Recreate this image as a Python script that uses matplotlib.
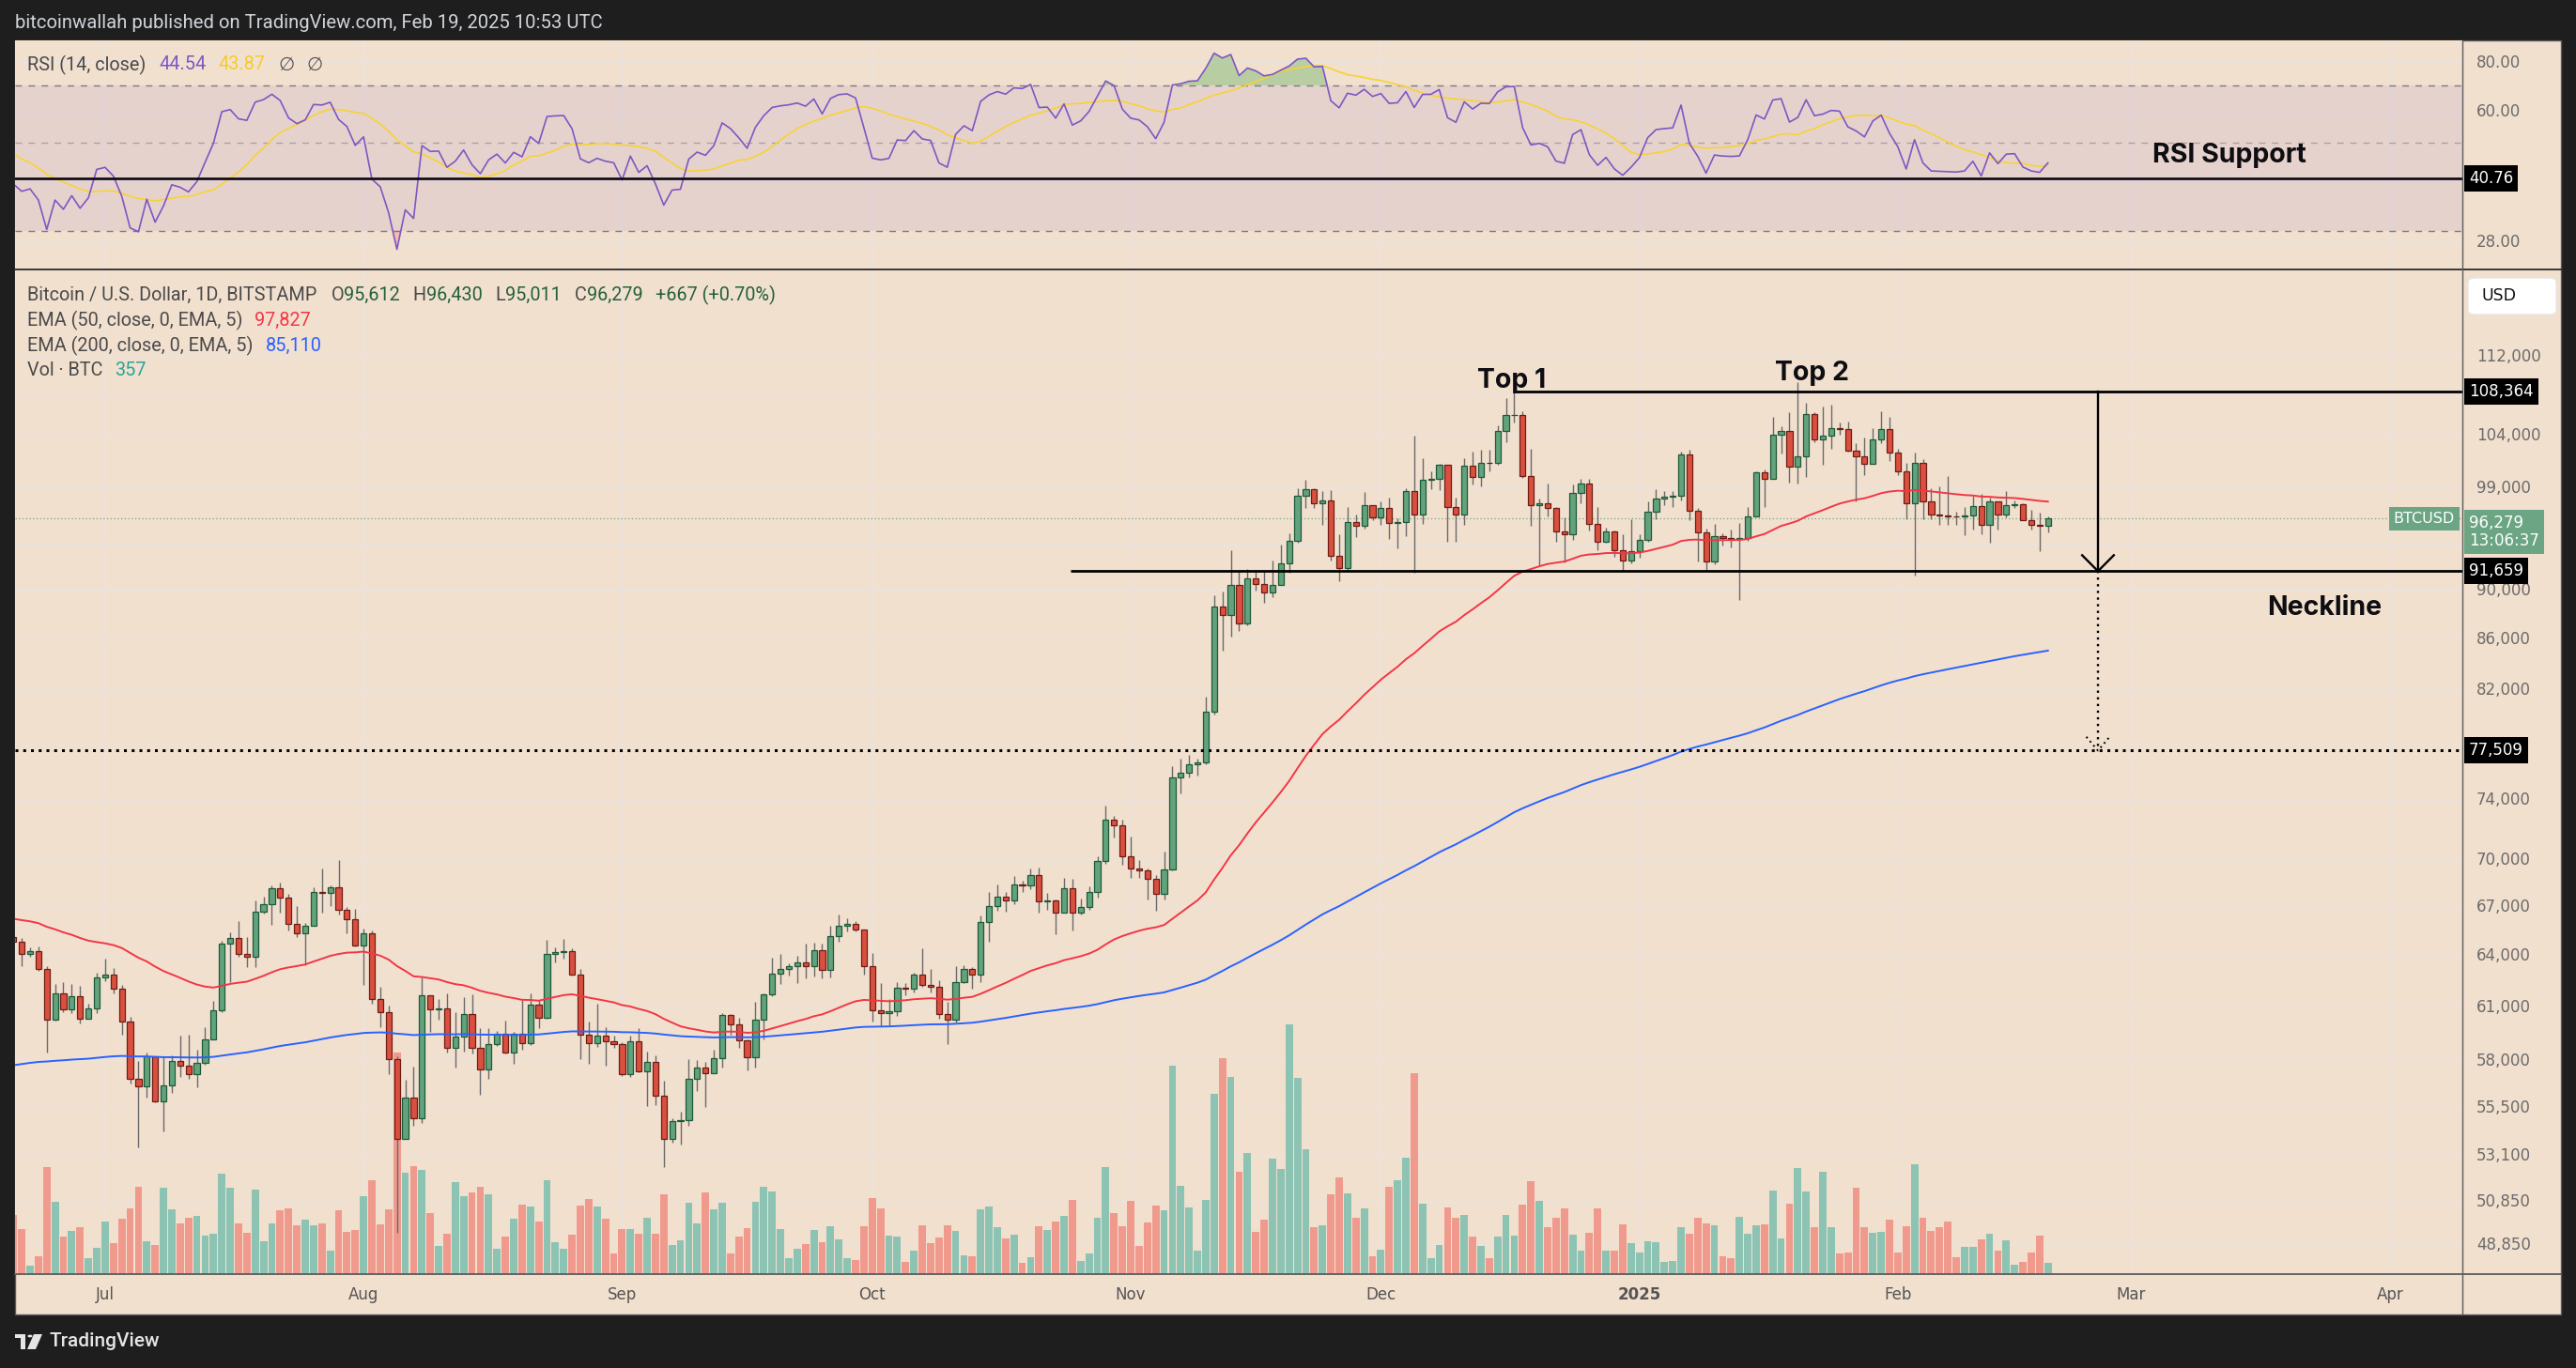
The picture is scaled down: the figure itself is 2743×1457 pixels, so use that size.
import numpy as np
import pandas as pd
import matplotlib
matplotlib.use("Agg")
import matplotlib.pyplot as plt
from matplotlib import transforms
from matplotlib.lines import Line2D
from matplotlib.patches import Rectangle, FancyBboxPatch, Polygon, Circle
from matplotlib.ticker import NullLocator

# ---- data: BTC/USD daily, Bitstamp, 2024-06-20 .. 2025-02-19 ----
dates = pd.date_range("2024-06-20", "2025-02-19", freq="D")
first_open = 65150

closes = [
    64850, 64100, 64250, 63200, 60300, 61800, 60850, 61600, 60350, 60900, 62700,
    62850, 62050, 60200, 57050, 56650, 58250, 55850, 56700, 58000, 57750, 57300, 57900, 59200, 60800, 64700, 65050,
    64100, 63950, 66700, 67150, 68150, 67550, 65900, 65350, 65800, 67900, 67850, 68250, 66800, 66200, 64600,
    65350, 61450, 60700, 58100, 53950, 56050, 55000, 61700, 60850, 60900, 58700, 59350, 60600, 58700, 57550, 58900,
    59500, 58450, 59500, 59000, 61150, 60400, 64100, 64200, 64250, 62850, 59450, 59000, 59400, 59100, 58950,
    57300, 59100, 57450, 57950, 56150, 53950, 54850, 54900, 57050, 57650, 57350, 58150, 60550, 60000, 59150,
    58200, 60300, 61750, 62950, 63200, 63350, 63600, 63350, 64300, 63150, 65200, 65800, 65900, 65600, 63350,
    60800, 60650, 60750, 62100, 62050, 62850, 62250, 62150, 60600, 60300, 62450, 63200, 62850, 66050, 67050,
    67600, 67400, 68400, 68350, 69000, 67350, 67400, 66650, 68150, 66600, 67000, 67950, 69900, 72700, 72300, 70250,
    69450, 69300, 68750, 67800, 69350, 75600, 75900, 76550, 76650, 80400, 88650, 87950, 90450, 87300, 91050,
    90600, 89850, 90450, 92300, 94300, 98350, 98950, 97700, 97900, 93000, 91950, 95950, 95650, 97450, 96400,
    97200, 95850, 96000, 98750, 96600, 99850, 99900, 101200, 97300, 96650, 101150, 100050, 101450, 101400, 104450,
    106050, 106100, 100200, 97450, 97700, 97200, 95150, 94850, 98650, 99450, 95800, 94200, 95150, 93500, 92600, 93400,
    94400, 96900, 98100, 98250, 98350, 102250, 96950, 95050, 92500, 94700, 94550, 94500, 94550, 96500, 100500,
    99950, 104100, 104450, 101100, 102000, 106150, 103650, 104000, 104800, 104700, 102600, 102050, 101300, 103700, 104700, 102400,
    100650, 97700, 101400, 97850, 96600, 96550, 96500, 96450, 96550, 97400, 95750, 97850, 96600, 97500, 97550,
    96150, 95750, 95612, 96279,
]

highs = [
    66450, 65050, 64500, 64550, 63400, 62350, 62450, 62350, 62200, 61200, 63000,
    63800, 63250, 62250, 60450, 58000, 58450, 58250, 58200, 58300, 59400, 59450, 58600, 59850, 61350, 64900, 65400,
    66100, 65100, 67400, 67600, 68350, 68500, 67800, 67050, 66000, 68200, 69400, 68350, 70000, 66950, 66850,
    65650, 65550, 62150, 61100, 58250, 57000, 57700, 62700, 61700, 61450, 61800, 60700, 61550, 61750, 59800, 59800,
    59650, 60250, 59600, 61400, 61800, 61400, 64950, 64500, 65000, 64450, 63200, 60200, 61200, 59850, 59400,
    59050, 59400, 59800, 58500, 58300, 56950, 55000, 55300, 58100, 58050, 57950, 58600, 60650, 60600, 60400,
    59200, 61300, 61800, 63850, 64100, 63550, 64000, 64750, 64800, 64750, 65800, 66500, 66250, 66100, 65600,
    64150, 62400, 61450, 62450, 62400, 63000, 64450, 63200, 62550, 61300, 63400, 63450, 63300, 66450, 67900,
    68400, 67900, 68950, 68650, 69450, 69500, 67850, 67450, 68850, 68750, 67500, 68300, 70250, 73600, 72950, 72650,
    71550, 70000, 69400, 69000, 70550, 76400, 76950, 77200, 76900, 81500, 89600, 89900, 93450, 91750, 91850,
    91800, 91700, 92600, 94000, 94950, 99000, 99800, 99000, 98750, 98900, 94850, 97350, 96650, 98700, 97450,
    97850, 98150, 96300, 99000, 104000, 101900, 100600, 101350, 101200, 98200, 101900, 102500, 102650, 102650, 105000,
    107750, 108364, 106450, 102800, 98100, 99500, 97350, 96400, 99400, 99950, 99900, 97350, 95500, 95200, 94900, 96200,
    94900, 97800, 98950, 98750, 98800, 102450, 102700, 97250, 95350, 95800, 94950, 95300, 95900, 97350, 100650,
    100800, 105900, 104950, 106300, 109350, 107250, 106300, 106850, 107100, 105300, 105450, 103300, 103800, 104800, 106450, 105900,
    102750, 101450, 102400, 101750, 99000, 99200, 100150, 96900, 97300, 98350, 98550, 98150, 97300, 98800, 97950,
    97700, 97050, 96800, 96430,
]

lows = [
    64550, 63400, 63950, 63100, 58450, 60250, 60700, 60650, 60050, 60350, 60650,
    62500, 61800, 59450, 56800, 53500, 56050, 55800, 54300, 56300, 57150, 57050, 56600, 57800, 59300, 60700, 62450,
    63950, 63300, 63300, 66550, 65850, 66650, 65500, 65150, 63450, 65800, 66650, 67050, 66500, 65350, 64550,
    62300, 61200, 59850, 57300, 49400, 54000, 54600, 54750, 59600, 60300, 58450, 57650, 58500, 58400, 56200, 57050,
    58800, 58400, 57850, 58600, 58850, 59800, 60350, 63600, 63800, 62800, 58100, 57850, 58750, 57750, 58700,
    57200, 57150, 57400, 55600, 55650, 52550, 53750, 53650, 54600, 56400, 55550, 57350, 57650, 59450, 58700,
    57500, 57650, 59200, 61600, 62350, 62800, 62400, 62650, 62750, 62650, 62700, 64850, 65450, 65450, 62850,
    60200, 59900, 59950, 60500, 61700, 61850, 62150, 61850, 60350, 58900, 60100, 62400, 62050, 62450, 64850,
    66750, 66700, 67150, 67950, 68100, 66600, 66800, 65300, 66600, 65550, 66500, 66800, 67550, 69750, 71450, 69700,
    68800, 68850, 67450, 66750, 67450, 69300, 74450, 75600, 75750, 76550, 80200, 85100, 86250, 86700, 87100,
    90050, 89000, 89450, 90850, 91550, 94100, 97200, 97200, 95750, 92600, 90800, 91750, 94650, 95400, 96100,
    95750, 94450, 93600, 94700, 91500, 95800, 98950, 98850, 94200, 94250, 95750, 99350, 99250, 100650, 101250,
    103350, 105350, 100000, 95650, 92200, 96450, 94200, 92450, 94350, 97650, 95200, 93500, 94150, 92900, 91700, 92300,
    92850, 94250, 96250, 97500, 97300, 97900, 96150, 92500, 91650, 92250, 93850, 93750, 89250, 94300, 96500,
    97300, 99950, 102300, 99600, 99500, 100100, 103350, 101250, 102800, 104150, 102500, 97800, 100300, 101350, 103300, 101600,
    100300, 96200, 91250, 96200, 96250, 95700, 95700, 95700, 94750, 95300, 94900, 94100, 95250, 96350, 97250,
    96100, 95250, 93400, 95011,
]

volumes = [
    1880, 1440, 270, 570, 3420, 2310, 1200, 1380, 1500, 510, 840,
    1680, 990, 1770, 2100, 2790, 1050, 930, 2760, 2070, 1620, 1800, 1860, 1230, 1290, 3210, 2760,
    1620, 1320, 2700, 1050, 1620, 2040, 2100, 1560, 1740, 1560, 1620, 750, 2040, 1350, 1410,
    2490, 3000, 1590, 2070, 7080, 3240, 3450, 3330, 1950, 900, 1290, 2940, 2490, 2610, 2790, 2550,
    810, 1200, 1770, 2220, 2160, 1680, 3000, 1020, 810, 1260, 2190, 2400, 2160, 1770, 660,
    1440, 1440, 1290, 1800, 1290, 2550, 930, 1080, 2280, 1620, 2610, 2070, 2280, 660, 1200,
    1470, 2310, 2790, 2640, 1440, 510, 810, 960, 1410, 1020, 1530, 1110, 510, 450, 1530,
    2430, 2100, 1230, 1200, 390, 750, 1560, 990, 1170, 1560, 1380, 600, 570, 2070, 2160,
    1500, 1140, 1260, 360, 540, 1530, 1410, 1680, 1860, 2370, 420, 660, 1800, 3420, 1950, 1530,
    2340, 900, 1650, 2190, 2040, 6660, 2820, 2130, 750, 2370, 5760, 6900, 6300, 3270, 3870,
    1350, 1740, 3690, 3360, 7980, 6270, 3990, 1500, 1560, 2550, 3090, 2580, 1800, 2100, 570,
    780, 2790, 3000, 3720, 6420, 2250, 510, 930, 2130, 1800, 1890, 1200, 900, 510, 1200,
    1890, 1230, 2220, 2970, 2340, 1500, 1800, 2100, 1260, 750, 1320, 2100, 750, 750, 1590, 990,
    690, 1050, 1020, 390, 420, 1500, 1290, 1800, 1620, 1560, 570, 510, 1830, 1290, 1560,
    1590, 2670, 1140, 2250, 3390, 2640, 1500, 3270, 1500, 660, 690, 2760, 1500, 1320, 1350, 1740,
    690, 1530, 3510, 1800, 1380, 1500, 1680, 540, 870, 870, 1110, 1290, 750, 1080, 300,
    390, 690, 1230, 357,
]

# indicator state just before the first visible bar
ema50_seed = 66300
ema200_seed = 57700
rsi_gain_seed = 560
rsi_loss_seed = 840
rsi_before = [58, 53, 54, 52, 50, 46, 48, 45, 44, 43, 41, 42, 43]

# drawn levels
top_level = 108364
neck_level = 91659
target_level = 77509
rsi_support = 40.76
last_price = 96279

# grid levels; the ones hidden behind price tags get no label
price_grid = [112000, 108000, 104000, 99000, 94000, 90000, 86000, 82000, 78000, 74000,
              70000, 67000, 64000, 61000, 58000, 55500, 53100, 50850, 48850]
price_hidden = [108000, 94000, 78000]
rsi_grid = [80, 60, 40, 28]
rsi_hidden = [40]
month_names = ["Jul", "Aug", "Sep", "Oct", "Nov", "Dec", "2025", "Feb", "Mar", "Apr"]
month_starts = pd.to_datetime(["2024-07-01", "2024-08-01", "2024-09-01", "2024-10-01", "2024-11-01",
                               "2024-12-01", "2025-01-01", "2025-02-01", "2025-03-01", "2025-04-01"])

# ---- derived series ----
ref = pd.Timestamp("2024-07-01")
x = np.asarray((dates - ref).days, dtype=float)
mx = np.asarray((month_starts - ref).days, dtype=float)
c = np.array(closes, float)
o = np.concatenate([[first_open], c[:-1]])
h = np.maximum(np.array(highs, float), np.maximum(o, c))
l = np.minimum(np.array(lows, float), np.minimum(o, c))
up = c >= o


def ema(values, span, seed):
    a = 2.0 / (span + 1)
    out, prev = [], seed
    for v in values:
        prev = a * v + (1 - a) * prev
        out.append(prev)
    return np.array(out)


def rsi_wilder(values, prev, g, ls, n=14):
    out = []
    for v in values:
        ch = v - prev
        g = (g * (n - 1) + max(ch, 0)) / n
        ls = (ls * (n - 1) + max(-ch, 0)) / n
        out.append(100 - 100 / (1 + g / ls))
        prev = v
    return np.array(out)


ema50 = ema(c, 50, ema50_seed)
ema200 = ema(c, 200, ema200_seed)
rsi = rsi_wilder(c, first_open, rsi_gain_seed, rsi_loss_seed)
rsi_ma = pd.Series(list(rsi_before) + list(rsi)).rolling(14).mean().values[13:]

# ---- layout ----
W, H = 2743, 1457
BG = "#F2E0CF"
GRID = "#EAE3DE"
DARK = "#1E1E1E"
GREEN_BODY, GREEN_EDGE = "#62A27C", "#1D5A38"
RED_BODY, RED_EDGE = "#D9503F", "#6E1C15"


def fx(px):
    return px / W


def fy(py):
    return 1 - py / H


fig = plt.figure(figsize=(W / 100, H / 100), dpi=100, facecolor=DARK)
fig.add_artist(Rectangle((fx(16), fy(1400)), (2727 - 16) / W, (1400 - 43) / H,
                         transform=fig.transFigure, fc=BG, ec="#5a5a5a", lw=1, zorder=-5))

L, R = 16, 2622
rect_rsi = [fx(L), fy(287), (R - L) / W, (287 - 43) / H]
rect_main = [fx(L), fy(1357), (R - L) / W, (1357 - 287) / H]
xlim = (-10.8, 282.7)

ax_rsi = fig.add_axes(rect_rsi, facecolor=BG)
ax_bg = fig.add_axes(rect_main, facecolor=BG)
ax_vol = fig.add_axes(rect_main, facecolor="none")
ax_main = fig.add_axes(rect_main, facecolor="none")
ax_bg.set_zorder(0)
ax_vol.set_zorder(1)
ax_main.set_zorder(2)

for ax in (ax_rsi, ax_bg, ax_vol, ax_main):
    ax.set_xlim(*xlim)
    for s in ax.spines.values():
        s.set_visible(False)
    ax.set_xticks([])
    ax.set_yticks([])
    ax.yaxis.set_minor_locator(NullLocator())

for ax in (ax_bg, ax_main):
    ax.set_yscale("log")
    ax.set_ylim(47530, 121500)
    ax.yaxis.set_minor_locator(NullLocator())
    ax.set_yticks([])
ax_rsi.set_yscale("log")
ax_rsi.set_ylim(23.9, 91.0)
ax_rsi.yaxis.set_minor_locator(NullLocator())
ax_rsi.set_yticks([])
ax_vol.set_ylim(0, 32100)

# grid
for m in mx:
    ax_bg.axvline(m, color=GRID, lw=1.2, zorder=0)
    ax_rsi.axvline(m, color=GRID, lw=1.2, zorder=0)
for p in price_grid:
    ax_bg.axhline(p, color=GRID, lw=1.2, zorder=0)
for r in rsi_grid:
    ax_rsi.axhline(r, color=GRID, lw=1.2, zorder=0)

# volume
ax_vol.bar(x, volumes, width=0.88, color=np.where(up, "#8CC3B3", "#F09A8E"), lw=0)

# candles
ax_main.vlines(x, l, h, color="#6a6a6a", lw=1.0, zorder=3)
ax_main.bar(x, np.abs(c - o), bottom=np.minimum(o, c), width=0.7,
            color=np.where(up, GREEN_BODY, RED_BODY),
            edgecolor=np.where(up, GREEN_EDGE, RED_EDGE), lw=0.9, zorder=4)

# EMAs
ax_main.plot(x, ema50, color="#F23645", lw=1.4, zorder=5)
ax_main.plot(x, ema200, color="#2962FF", lw=1.4, zorder=5)

# last price line
ax_main.axhline(last_price, color="#6BA583", lw=0.9, ls=(0, (1, 2)), zorder=2)

# pattern drawing
ax_main.hlines(top_level, 169, xlim[1], color="black", lw=2.0, zorder=6)
ax_main.hlines(neck_level, 115.8, xlim[1], color="black", lw=2.0, zorder=6)
ax_main.axhline(target_level, color="black", lw=2.2, ls=(0, (1, 1.7)), zorder=6)
arrow_x = 239
ax_main.plot([arrow_x, arrow_x], [top_level, neck_level], color="black", lw=1.7, zorder=6)
ax_main.plot([arrow_x - 1.9, arrow_x, arrow_x + 1.9], [neck_level * 1.015, neck_level, neck_level * 1.015],
             color="black", lw=1.7, zorder=6, solid_joinstyle="miter")
ax_main.plot([arrow_x, arrow_x], [neck_level, target_level], color="black", lw=1.7,
             ls=(0, (1, 2)), zorder=6)
ax_main.plot([arrow_x - 1.4, arrow_x, arrow_x + 1.4],
             [target_level * 1.013, target_level, target_level * 1.013],
             color="black", lw=1.4, ls=(0, (1, 2)), zorder=6)

# RSI pane
ax_rsi.axhspan(30, 70, color="#7E57C2", alpha=0.1, lw=0, zorder=1)
ax_rsi.axhline(70, color="#787B86", lw=1.0, ls=(0, (5, 5)), zorder=2)
ax_rsi.axhline(50, color="#787B86", lw=1.0, ls=(0, (5, 5)), alpha=0.55, zorder=2)
ax_rsi.axhline(30, color="#787B86", lw=1.0, ls=(0, (5, 5)), zorder=2)
ax_rsi.fill_between(x, rsi, 70, where=rsi > 70, interpolate=True, color="#4CAF50", alpha=0.35, lw=0, zorder=2)
ax_rsi.fill_between(x, rsi, 30, where=rsi < 30, interpolate=True, color="#F23645", alpha=0.2, lw=0, zorder=2)
ax_rsi.plot(x, rsi_ma, color="#F7D235", lw=1.2, zorder=3)
ax_rsi.plot(x, rsi, color="#7E57C2", lw=1.2, zorder=4)
ax_rsi.axhline(rsi_support, color="#120E16", lw=2.0, zorder=5)


# frame lines
def fline(x0, y0, x1, y1, color="#5a5a5a", lw=1.0):
    fig.add_artist(Line2D([fx(x0), fx(x1)], [fy(y0), fy(y1)], transform=fig.transFigure,
                          color=color, lw=lw, zorder=10))


fline(16, 287, 2727, 287, "#2b2b2b", 1.3)
fline(2622, 43, 2622, 1400, "#5a5a5a", 1.0)
fline(16, 1357, 2727, 1357, "#5a5a5a", 1.3)

# price axis labels
tr_main = transforms.blended_transform_factory(fig.transFigure, ax_main.transData)
tr_rsi = transforms.blended_transform_factory(fig.transFigure, ax_rsi.transData)
for p in price_grid:
    if p in price_hidden:
        continue
    fig.text(fx(2637), p, f"{p:,}", transform=tr_main, ha="left", va="center",
             fontsize=12, color="#6b6b6b", family="DejaVu Sans")
for r in rsi_grid:
    if r in rsi_hidden:
        continue
    fig.text(fx(2637), r, f"{r:.2f}", transform=tr_rsi, ha="left", va="center",
             fontsize=12, color="#6b6b6b", family="DejaVu Sans")


def tag(y, s, tr, fc="black"):
    fig.text(fx(2629), y, s, transform=tr, ha="left", va="center", fontsize=12, color="white",
             family="DejaVu Sans", zorder=20,
             bbox=dict(boxstyle="square,pad=0.3", fc=fc, ec="none"))


tag(top_level, f"{top_level:,}", tr_main)
tag(neck_level, f"{neck_level:,}", tr_main)
tag(target_level, f"{target_level:,}", tr_main)
tag(rsi_support, f"{rsi_support:.2f}", tr_rsi)
tr_last = tr_main + transforms.ScaledTranslation(0, 4 / 100, fig.dpi_scale_trans)
fig.text(fx(2629), last_price, "96,279\n13:06:37", transform=tr_last, ha="left", va="top",
         fontsize=12, color="white", family="DejaVu Sans", linespacing=1.05, zorder=20,
         bbox=dict(boxstyle="square,pad=0.3", fc="#6BA583", ec="none"))
fig.text(fx(2614), last_price, "BTCUSD", transform=tr_main, ha="right", va="center",
         fontsize=11.5, color="white", family="DejaVu Sans", zorder=20,
         bbox=dict(boxstyle="square,pad=0.3", fc="#6BA583", ec="none"))

fig.add_artist(FancyBboxPatch((fx(2628), fy(335)), 94 / W, 39 / H, transform=fig.transFigure,
                              boxstyle="round,pad=0,rounding_size=0.003", fc="white", ec="#e6e6e6",
                              lw=1, zorder=15))
fig.text(fx(2643), fy(315), "USD", ha="left", va="center", fontsize=12.5, color="#111",
         family="DejaVu Sans", zorder=16)

# time axis labels
tr_time = transforms.blended_transform_factory(ax_main.transData, fig.transFigure)
for m, name in zip(mx, month_names):
    fig.text(m, fy(1379), name, transform=tr_time, ha="center", va="center", fontsize=12,
             color="#555555", family="DejaVu Sans",
             fontweight="bold" if name == "2025" else "normal")

# annotations
note = dict(family="Inter", fontweight="bold", fontsize=20.5, color="#0d0d12", ha="center",
            va="baseline", zorder=20)
fig.text(fx(1610), fy(413), "Top 1", **note)
fig.text(fx(1929), fy(405), "Top 2", **note)
fig.text(fx(2374), fy(173), "RSI Support", **note)
fig.text(fx(2475), fy(655), "Neckline", **note)

# legends
renderer = fig.canvas.get_renderer()


def seq_text(x0, y0, parts, size=14.3):
    xp = x0
    for s, col, gap in parts:
        t = fig.text(fx(xp), fy(y0), s, ha="left", va="center", fontsize=size, color=col,
                     family=["Roboto", "DejaVu Sans"], zorder=20)
        xp += t.get_window_extent(renderer).width + gap


GRAY = "#4a4a4a"
VAL = "#23603C"
seq_text(29, 69, [("RSI (14, close)", GRAY, 14), ("44.54", "#7E57C2", 13), ("43.87", "#F5CB2E", 14),
                  ("\u2205", "#555555", 12), ("\u2205", "#555555", 0)])
seq_text(29, 314, [("Bitcoin / U.S. Dollar, 1D, BITSTAMP", GRAY, 15), ("O", GRAY, 0), ("95,612", VAL, 14),
                   ("H", GRAY, 0), ("96,430", VAL, 14), ("L", GRAY, 0), ("95,011", VAL, 14),
                   ("C", GRAY, 0), ("96,279", VAL, 14), ("+667 (+0.70%)", VAL, 0)])
seq_text(29, 341, [("EMA (50, close, 0, EMA, 5)", GRAY, 13), ("97,827", "#F23645", 0)])
seq_text(29, 368, [("EMA (200, close, 0, EMA, 5)", GRAY, 13), ("85,110", "#2962FF", 0)])
seq_text(29, 395, [("Vol \u00b7 BTC", GRAY, 13), ("357", "#26A69A", 0)])

# header and footer
fig.text(fx(16), fy(25), "bitcoinwallah published on TradingView.com, Feb 19, 2025 10:53 UTC",
         ha="left", va="center", fontsize=14.6, color="#D1D4DC", family="Roboto")
logo = "#E6E6E6"
fig.add_artist(Rectangle((fx(16), fy(1425)), 11 / W, 4 / H, transform=fig.transFigure, fc=logo, ec="none"))
fig.add_artist(Rectangle((fx(22), fy(1437)), 5 / W, 16 / H, transform=fig.transFigure, fc=logo, ec="none"))
fig.add_artist(Polygon([(fx(36), fy(1421)), (fx(45), fy(1421)), (fx(38), fy(1437)), (fx(29), fy(1437))],
                       closed=True, transform=fig.transFigure, fc=logo, ec="none"))
fig.add_artist(Circle((fx(32), fy(1423)), 2.6 / W, transform=fig.transFigure, fc=logo, ec="none"))
fig.text(fx(52), fy(1429), "TradingView", ha="left", va="center", fontsize=15, color=logo,
         family="Roboto", fontweight="medium")

fig.savefig("out.png", dpi=100, facecolor=DARK)
